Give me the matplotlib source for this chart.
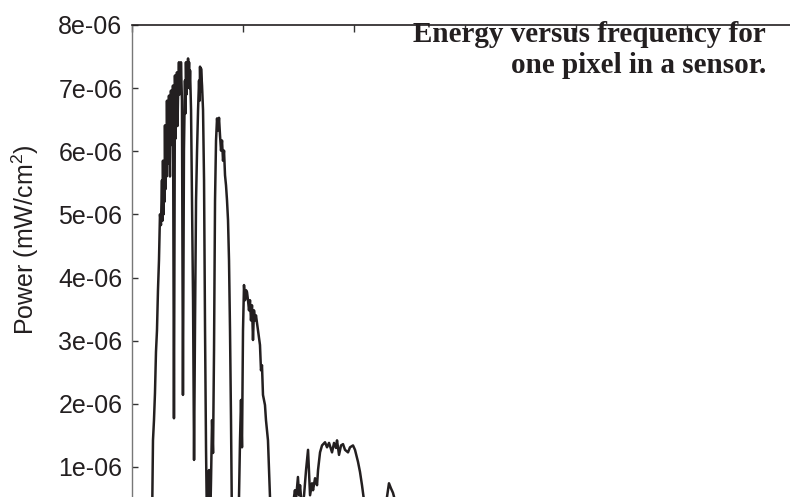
#!/usr/bin/env python3
# -*- coding: utf-8 -*-
"""
Energy versus frequency for one pixel in a sensor.
"""

# %% import

import numpy as np
import matplotlib
matplotlib.use("Agg")
import matplotlib.pyplot as plt
from matplotlib.ticker import FormatStrFormatter, MultipleLocator

# %% Universal parameters

fs = 18
plt.rcParams['font.family'] = ['Liberation Sans', 'DejaVu Sans']
plt.rcParams['mathtext.fontset'] = 'custom'
plt.rcParams['mathtext.rm'] = 'Liberation Sans'
plt.rcParams['mathtext.it'] = 'Liberation Sans:italic'

# %% Data (power in units of 1e-6 mW/cm^2)

freq = [0.162, 0.180, 0.189, 0.198, 0.207, 0.216, 0.225, 0.234, 0.243, 0.252,
        0.261, 0.270, 0.275, 0.279, 0.284, 0.288, 0.293, 0.297, 0.302, 0.306,
        0.311, 0.315, 0.320, 0.324, 0.329, 0.333, 0.338, 0.342, 0.347, 0.351,
        0.356, 0.360, 0.365, 0.369, 0.378, 0.387, 0.392, 0.396, 0.401, 0.405,
        0.410, 0.414, 0.419, 0.423, 0.428, 0.432, 0.437, 0.441, 0.450, 0.459,
        0.468, 0.477, 0.482, 0.486, 0.491, 0.495, 0.500, 0.505, 0.509, 0.514,
        0.518, 0.523, 0.532, 0.541, 0.550, 0.559, 0.568, 0.577, 0.586, 0.595,
        0.604, 0.609, 0.613, 0.618, 0.622, 0.631, 0.640, 0.649, 0.658, 0.667,
        0.676, 0.685, 0.694, 0.703, 0.712, 0.721, 0.730, 0.739, 0.748, 0.757,
        0.766, 0.775, 0.784, 0.793, 0.802, 0.811, 0.820, 0.829, 0.838, 0.847,
        0.856, 0.865, 0.874, 0.883, 0.892, 0.901, 0.955, 0.964, 0.973, 0.982,
        0.991, 1.000, 1.009, 1.018, 1.027, 1.036, 1.045, 1.054, 1.063, 1.072,
        1.081, 1.090, 1.099, 1.108, 1.117, 1.135, 1.153, 1.162, 1.171, 1.180,
        1.198, 1.207, 1.225, 1.234, 1.243, 1.261, 1.423, 1.450, 1.468, 1.477,
        1.495, 1.505, 1.514, 1.532, 1.550, 1.568, 1.586, 1.604, 1.622, 1.631,
        1.649, 1.667, 1.676, 1.694, 1.712, 1.739, 1.757, 1.775, 1.802, 1.820,
        1.838, 1.847, 1.865, 1.883, 1.901, 1.919, 1.946, 1.964, 1.991, 2.009,
        2.036, 2.054, 2.072, 2.090, 2.108, 2.279, 2.297, 2.315, 2.333, 2.351,
        2.369, 2.387, 2.595, 6.000]

power = [0.00, 0.00, 1.42, 1.74, 2.17, 2.82, 3.16, 3.80, 4.27, 5.00,
         4.83, 5.54, 4.90, 5.85, 5.00, 5.70, 5.20, 6.41, 5.40, 6.17,
         5.60, 6.80, 5.80, 6.57, 5.90, 6.88, 6.00, 5.60, 6.50, 6.96,
         6.10, 6.65, 6.30, 7.04, 1.77, 7.20, 6.20, 6.49, 6.90, 7.25,
         6.40, 6.80, 7.10, 7.41, 6.90, 7.28, 6.95, 7.41, 6.80, 2.14,
         6.01, 7.12, 6.60, 7.41, 6.90, 7.34, 7.00, 7.47, 7.10, 7.41,
         7.00, 7.28, 6.65, 5.22, 3.64, 1.11, 3.32, 5.22, 6.01, 6.65,
         7.12, 6.80, 7.34, 6.95, 7.31, 7.04, 6.65, 5.54, 3.16, 1.27,
         0.00, 0.00, 0.95, 0.00, 0.79, 1.74, 1.22, 2.85, 5.22, 6.17,
         6.52, 6.33, 6.53, 6.25, 6.01, 6.17, 5.85, 6.01, 5.62, 5.46,
         5.22, 4.91, 4.27, 3.16, 1.74, 0.00, 0.00, 0.52, 1.42, 2.06,
         1.31, 3.16, 3.88, 3.64, 3.80, 3.77, 3.64, 3.48, 3.64, 3.32,
         3.56, 3.01, 3.48, 3.32, 3.40, 3.16, 2.93, 2.53, 2.61, 2.14,
         1.98, 1.74, 1.42, 0.95, 0.52, 0.00, 0.00, 0.40, 0.63, 0.47,
         0.84, 0.55, 0.71, 0.32, 0.55, 0.95, 1.27, 0.55, 0.74, 0.63,
         0.82, 0.71, 0.95, 1.23, 1.34, 1.39, 1.31, 1.38, 1.23, 1.38,
         1.30, 1.42, 1.19, 1.34, 1.36, 1.27, 1.23, 1.31, 1.34, 1.27,
         1.08, 0.92, 0.71, 0.47, 0.00, 0.00, 0.52, 0.74, 0.66, 0.59,
         0.47, 0.00, 0.00, 0.00]

yticks = [1e-6, 2e-6, 3e-6, 4e-6, 5e-6, 6e-6, 7e-6, 8e-6]
title_lines = ['Energy versus frequency for', 'one pixel in a sensor.']
ylabel = 'Power (mW/cm$^{\\mathrm{2}}$)'

# %% Define figure structure

W, H = 790, 497
fig = plt.figure(figsize=(W / 100, H / 100), dpi=100)

# the bottom of the original plot is cut off, so the axes reach below the figure
x0, x1, ytop, ybot = 132, 798, 25, 530
ax = fig.add_axes([x0 / W, (H - ybot) / H, (x1 - x0) / W, (ybot - ytop) / H])

# %% plot

ax.plot(freq, np.array(power) * 1e-6, color='#231f20', lw=1.8)

ax.set_xlim(0, 6)
ax.set_ylim(0, 8e-6)
ax.set_yticks(yticks)
ax.yaxis.set_major_formatter(FormatStrFormatter('%.0e'))
ax.xaxis.set_major_locator(MultipleLocator(1))

ax.tick_params(axis='y', direction='in', length=4.5, width=1, color='#333333',
               labelsize=fs, pad=7, labelcolor='#231f20')
ax.tick_params(axis='x', direction='in', length=5, width=1, color='#333333',
               top=True, bottom=False, labeltop=False, labelbottom=False)

ax.spines['left'].set_color('#777777')
ax.spines['left'].set_linewidth(1.0)
ax.spines['top'].set_color('#231f20')
ax.spines['top'].set_linewidth(1.2)
ax.spines['right'].set_visible(False)
ax.spines['bottom'].set_visible(False)

fig.text(25 / W, 1 - 240 / H, ylabel, rotation=90, ha='center', va='center',
         fontsize=fs, color='#231f20')

fig.text(766 / W, 1 - 42 / H, title_lines[0], ha='right', va='baseline',
         fontsize=21, fontweight='bold', family='Liberation Serif', color='#231f20')
fig.text(766 / W, 1 - 73 / H, title_lines[1], ha='right', va='baseline',
         fontsize=21, fontweight='bold', family='Liberation Serif', color='#231f20')

# %% save figure

plt.savefig('out.png', dpi=100)
